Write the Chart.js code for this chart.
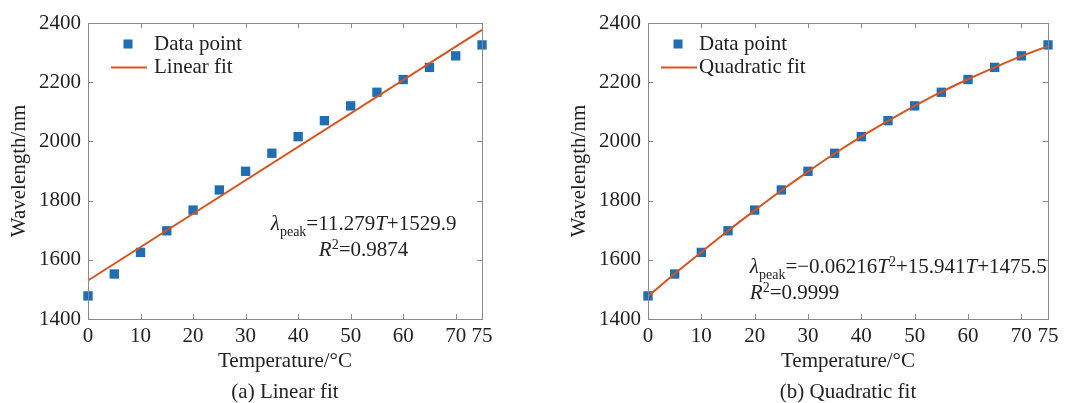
<!DOCTYPE html>
<html>
<head>
<meta charset="utf-8">
<script src="https://cdn.jsdelivr.net/npm/chart.js@4.4.0/dist/chart.umd.min.js"></script>
<style>
  html, body { margin: 0; padding: 0; background: #fff; }
  #wrap { position: relative; width: 1068px; height: 403px; overflow: hidden; }
  .box { position: absolute; top: 0; height: 403px; }
  #boxA { left: 0; width: 510px; }
  #boxB { left: 560px; width: 508px; }
</style>
</head>
<body>
<div id="wrap">
  <div class="box" id="boxA"><canvas id="chartA"></canvas></div>
  <div class="box" id="boxB"><canvas id="chartB"></canvas></div>
</div>
<script>
// ================= DATA =================
const temps = [0, 5, 10, 15, 20, 25, 30, 35, 40, 45, 50, 55, 60, 65, 70, 75];
const wavelengths = [1478, 1552, 1625, 1698, 1768, 1836, 1899, 1960, 2016, 2070, 2120, 2166, 2209, 2250, 2289, 2326];

// linear fit line, read at both ends
const linTemps = [0, 75];
const linFit = [1530, 2377];

// quadratic fit curve at each temperature
const quadFit = [1477, 1553, 1626, 1698, 1767, 1834, 1898, 1959, 2016, 2069, 2120, 2167, 2210, 2250, 2288, 2322];

const xTicks = [0, 10, 20, 30, 40, 50, 60, 70, 75];
const yTicks = [1400, 1600, 1800, 2000, 2200, 2400];

// ================= STYLE =================
const FONT = "'Liberation Serif', 'Times New Roman', serif";
const TEXT = "#222";
const AXIS = "#8a8a8a";
const BLUE = "#1f6db3";
const ORANGE = "#d9531e";

// ================= FRAME + LEGEND + TEXT PLUGIN =================
const framePlugin = {
  id: "frame",
  afterDatasetsDraw(chart, args, opts) {
    const { ctx, chartArea: a, scales } = chart;
    ctx.save();

    // box
    ctx.strokeStyle = AXIS;
    ctx.lineWidth = 1;
    ctx.strokeRect(a.left + 0.5, a.top + 0.5, a.right - a.left, a.bottom - a.top);

    // inner ticks
    const tl = 5;
    ctx.beginPath();
    scales.x.ticks.forEach(t => {
      const px = Math.round(scales.x.getPixelForValue(t.value)) + 0.5;
      ctx.moveTo(px, a.bottom); ctx.lineTo(px, a.bottom - tl);
      ctx.moveTo(px, a.top); ctx.lineTo(px, a.top + tl);
    });
    scales.y.ticks.forEach(t => {
      const py = Math.round(scales.y.getPixelForValue(t.value)) + 0.5;
      ctx.moveTo(a.left, py); ctx.lineTo(a.left + tl, py);
      ctx.moveTo(a.right, py); ctx.lineTo(a.right - tl, py);
    });
    ctx.stroke();

    // legend
    const lx = a.left + opts.legendX;
    ctx.fillStyle = BLUE;
    ctx.fillRect(lx + opts.markX - 4.5, a.top + 21 - 4.5, 9, 9);
    ctx.strokeStyle = ORANGE;
    ctx.lineWidth = 2;
    ctx.beginPath();
    ctx.moveTo(lx, a.top + 44.5);
    ctx.lineTo(lx + opts.lineLen, a.top + 44.5);
    ctx.stroke();
    ctx.fillStyle = TEXT;
    ctx.font = "21px " + FONT;
    ctx.textBaseline = "middle";
    ctx.textAlign = "left";
    ctx.fillText("Data point", lx + opts.textGap, a.top + 21);
    ctx.fillText(opts.fitLabel, lx + opts.textGap, a.top + 44);

    // equation
    ctx.textBaseline = "alphabetic";
    let x = scales.x.getPixelForValue(opts.eqAt[0]);
    const y = scales.y.getPixelForValue(opts.eqAt[1]);
    opts.eqParts.forEach(p => {
      ctx.font = (p.it ? "italic " : "") + (p.small ? "14px " : "21px ") + FONT;
      const dy = p.sub ? 6 : (p.sup ? -7 : 0);
      ctx.fillText(p.t, x, y + dy);
      x += ctx.measureText(p.t).width;
    });
    x = scales.x.getPixelForValue(opts.eqAt[0]) + opts.r2Indent;
    const y2 = y + 26;
    opts.r2Parts.forEach(p => {
      ctx.font = (p.it ? "italic " : "") + (p.small ? "14px " : "21px ") + FONT;
      const dy = p.sup ? -7 : 0;
      ctx.fillText(p.t, x, y2 + dy);
      x += ctx.measureText(p.t).width;
    });

    // caption
    ctx.font = "21px " + FONT;
    ctx.textAlign = "center";
    ctx.textBaseline = "middle";
    ctx.fillText(opts.caption, (a.left + a.right) / 2, 392);

    ctx.restore();
  }
};

function makeChart(id, fitX, fitY, curved, frameOpts, rightPad) {
  return new Chart(document.getElementById(id), {
    type: "scatter",
    data: {
      datasets: [
        {
          label: "Data point",
          data: temps.map((t, i) => ({ x: t, y: wavelengths[i] })),
          pointStyle: "rect",
          pointRadius: 6.6,
          backgroundColor: BLUE,
          borderColor: BLUE,
          borderWidth: 0,
          clip: false,
          order: 2
        },
        {
          label: frameOpts.fitLabel,
          data: fitX.map((t, i) => ({ x: t, y: fitY[i] })),
          showLine: true,
          pointRadius: 0,
          borderColor: ORANGE,
          borderWidth: 2,
          cubicInterpolationMode: curved ? "monotone" : "default",
          clip: false,
          order: 1
        }
      ]
    },
    options: {
      responsive: true,
      maintainAspectRatio: false,
      animation: false,
      layout: { padding: { left: 7, right: rightPad, top: 23, bottom: 26 } },
      plugins: {
        legend: { display: false },
        tooltip: { enabled: false },
        frame: frameOpts
      },
      scales: {
        x: {
          type: "linear",
          min: 0,
          max: 75,
          afterBuildTicks: s => { s.ticks = xTicks.map(v => ({ value: v })); },
          afterFit: s => { s.height = 58; },
          grid: { display: false, drawTicks: false },
          border: { display: false },
          ticks: { font: { family: FONT, size: 21 }, color: TEXT, padding: 5, maxRotation: 0, autoSkip: false, callback: v => String(v) },
          title: { display: true, text: "Temperature/°C", font: { family: FONT, size: 21 }, color: TEXT, padding: { top: 0, bottom: 3 } }
        },
        y: {
          min: 1400,
          max: 2400,
          afterBuildTicks: s => { s.ticks = yTicks.map(v => ({ value: v })); },
          afterFit: s => { s.width = 81; },
          grid: { display: false, drawTicks: false },
          border: { display: false },
          ticks: { font: { family: FONT, size: 21 }, color: TEXT, padding: 7, callback: v => String(v) },
          title: { display: true, text: "Wavelength/nm", font: { family: FONT, size: 21 }, color: TEXT, padding: 0 }
        }
      }
    },
    plugins: [framePlugin]
  });
}

makeChart("chartA", linTemps, linFit, false, {
  fitLabel: "Linear fit",
  caption: "(a) Linear fit",
  legendX: 23,
  markX: 17,
  lineLen: 36,
  textGap: 43,
  eqAt: [34.8, 1702],
  r2Indent: 48,
  eqParts: [
    { t: "λ", it: true }, { t: "peak", small: true, sub: true },
    { t: "=11.279" }, { t: "T", it: true }, { t: "+1529.9" }
  ],
  r2Parts: [
    { t: "R", it: true }, { t: "2", small: true, sup: true }, { t: "=0.9874" }
  ]
}, 28);

makeChart("chartB", temps, quadFit, true, {
  fitLabel: "Quadratic fit",
  caption: "(b) Quadratic fit",
  legendX: 13,
  markX: 17,
  lineLen: 36,
  textGap: 38,
  eqAt: [19.1, 1556],
  r2Indent: 0,
  eqParts: [
    { t: "λ", it: true }, { t: "peak", small: true, sub: true },
    { t: "=−0.06216" }, { t: "T", it: true }, { t: "2", small: true, sup: true },
    { t: "+15.941" }, { t: "T", it: true }, { t: "+1475.5" }
  ],
  r2Parts: [
    { t: "R", it: true }, { t: "2", small: true, sup: true }, { t: "=0.9999" }
  ]
}, 20);
</script>
</body>
</html>
